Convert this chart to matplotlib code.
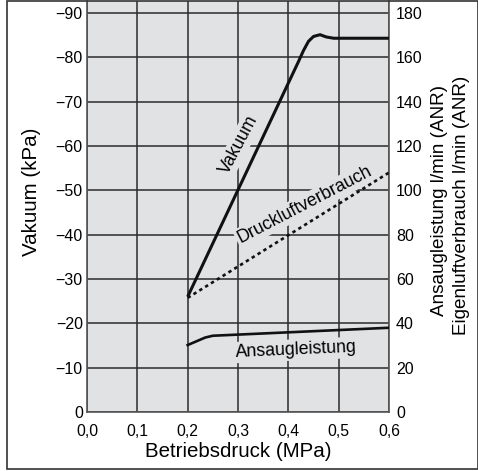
import matplotlib
matplotlib.use("Agg")
import matplotlib.pyplot as plt
from matplotlib.patches import Rectangle

plt.rcParams['font.family'] = ['Liberation Sans', 'DejaVu Sans']

# Betriebsdruck (MPa)
druck_vak = [0.2, 0.42, 0.43, 0.44, 0.45, 0.463, 0.475, 0.49, 0.6]
vakuum = [-26, -79, -81.5, -83.6, -84.7, -85.1, -84.6, -84.3, -84.3]   # kPa

druck_luft = [0.2, 0.6]
luftverbrauch = [51.5, 108]                             # l/min (ANR)

druck_ans = [0.2, 0.235, 0.25, 0.6]
ansaugleistung = [30.2, 33.6, 34.4, 38]                 # l/min (ANR)

xticks = [0.0, 0.1, 0.2, 0.3, 0.4, 0.5, 0.6]
xtick_labels = ['0,0', '0,1', '0,2', '0,3', '0,4', '0,5', '0,6']
yticks_left = [0, -10, -20, -30, -40, -50, -60, -70, -80, -90]
yticks_right = [0, 20, 40, 60, 80, 100, 120, 140, 160, 180]

bg = '#e1e2e4'
gridc = '#2b2b2b'
spc = '#555555'

fig = plt.figure(figsize=(4.78, 4.71), dpi=100)
ax = fig.add_axes([87 / 478, 59 / 471, 302 / 478, 411 / 471])
ax.set_facecolor(bg)
ax.set_xlim(0, 0.6)
ax.set_ylim(0, -92.7)
ax.set_xticks(xticks)
ax.set_xticklabels(xtick_labels)
ax.set_yticks(yticks_left)
ax.tick_params(axis='x', length=0, pad=9, labelsize=11.3)
ax.tick_params(axis='y', length=0, pad=3, labelsize=11.5)
ax.set_axisbelow(True)
ax.grid(True, color=gridc, linewidth=1.1)
for s in ax.spines.values():
    s.set_color(spc)
    s.set_linewidth(1.2)
ax.spines['top'].set_visible(False)

ax.plot(druck_vak, vakuum, color='#111111', linewidth=2.2, zorder=3,
        solid_capstyle='butt', solid_joinstyle='round')

ax2 = ax.twinx()
ax2.set_ylim(0, 185.4)
ax2.set_yticks(yticks_right)
ax2.tick_params(axis='y', length=0, pad=5, labelsize=11.5)
for s in ax2.spines.values():
    s.set_visible(False)

ax2.plot(druck_luft, luftverbrauch, color='#111111', linewidth=1.9,
         linestyle=(0, (1.3, 1.3)))
ax2.plot(druck_ans, ansaugleistung, color='#111111', linewidth=1.9,
         solid_joinstyle='round')

box = dict(facecolor=bg, edgecolor='none', pad=1.5)
ax.text(0.302, -60.3, 'Vakuum', rotation=62, ha='center', va='center',
        fontsize=12.8, bbox=box, zorder=2)
ax.text(0.433, -46.7, 'Druckluftverbrauch', rotation=27.5, ha='center',
        va='center', fontsize=12.8, bbox=box, zorder=2)
ax.text(0.4155, -14.0, 'Ansaugleistung', rotation=2.5, ha='center',
        va='center', fontsize=12.8, bbox=box, zorder=2)

ax.set_xlabel('Betriebsdruck (MPa)', fontsize=14.8, labelpad=2)
fig.text(32 / 478, 1 - 192 / 471, 'Vakuum (kPa)', rotation=90,
         ha='center', va='center', fontsize=14.8)
fig.text(440 / 478, 1 - 201 / 471, 'Ansaugleistung l/min (ANR)',
         rotation=90, ha='center', va='center', fontsize=13.6)
fig.text(462 / 478, 1 - 205 / 471, 'Eigenluftverbrauch l/min (ANR)',
         rotation=90, ha='center', va='center', fontsize=13.6)

# frame round the whole figure
fig.patches.append(Rectangle((7 / 478, 2 / 471), 470.5 / 478, 468 / 471,
                             transform=fig.transFigure, fill=False,
                             edgecolor='#333333', linewidth=1.2))

fig.savefig('out.png', dpi=100)
